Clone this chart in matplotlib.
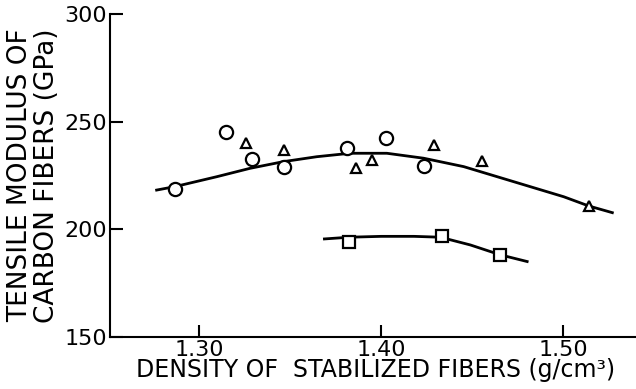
import matplotlib.pyplot as plt

circle_x = [1.2866, 1.3145, 1.3288, 1.3468, 1.3811, 1.4026, 1.4235]
circle_y = [218.7, 245.2, 232.8, 229.1, 237.9, 242.4, 229.4]

triangle_x = [1.3257, 1.3468, 1.3862, 1.3947, 1.4292, 1.4556, 1.5143]
triangle_y = [239.9, 236.8, 228.6, 232.2, 239.1, 231.7, 211.0]

square_x = [1.3824, 1.4332, 1.4653]
square_y = [194.0, 197.0, 188.1]

upper_curve_x = [1.2766, 1.2866, 1.3096, 1.3279, 1.3462, 1.3646, 1.3829, 1.4031,
                 1.4233, 1.4453, 1.4728, 1.5003, 1.5141, 1.5270]
upper_curve_y = [218.2, 219.8, 224.4, 228.3, 231.4, 233.7, 235.3, 235.3,
                 233.0, 229.1, 222.1, 215.1, 210.8, 207.7]

lower_curve_x = [1.3688, 1.3824, 1.4000, 1.4180, 1.4325, 1.4490, 1.4655, 1.4802]
lower_curve_y = [195.5, 196.3, 196.7, 196.7, 196.3, 192.7, 188.1, 185.0]

xticks = [1.30, 1.40, 1.50]
xtick_labels = ['1.30', '1.40', '1.50']
yticks = [150, 200, 250, 300]

plt.rcParams['font.family'] = ['DejaVu Sans']

fig = plt.figure(figsize=(6.36, 3.89), dpi=100)
ax = fig.add_axes([0.173, 0.134, 0.827, 0.830])

ax.plot(upper_curve_x, upper_curve_y, color='black', lw=2)
ax.plot(lower_curve_x, lower_curve_y, color='black', lw=2)

ax.plot(circle_x, circle_y, 'o', ms=9.5, mfc='white', mec='black', mew=1.6)
ax.plot(triangle_x, triangle_y, '^', ms=7.5, mfc='white', mec='black', mew=1.6)
ax.plot(square_x, square_y, 's', ms=8, mfc='white', mec='black', mew=1.6)

ax.set_xlim(1.251, 1.540)
ax.set_ylim(150, 300)
ax.set_xticks(xticks)
ax.set_xticklabels(xtick_labels)
ax.set_yticks(yticks)

ax.spines['top'].set_visible(False)
ax.spines['right'].set_visible(False)
for s in ['left', 'bottom']:
    ax.spines[s].set_linewidth(1.5)
ax.tick_params(direction='in', length=9, width=1.5, labelsize=16, pad=2)

ax.set_xlabel('DENSITY OF  STABILIZED FIBERS (g/cm³)', fontsize=17)
ax.xaxis.set_label_coords(0.505, -0.066)
ax.set_ylabel('TENSILE MODULUS OF\nCARBON FIBERS (GPa)', fontsize=19,
              linespacing=1.05)
ax.yaxis.set_label_coords(-0.095, 0.5)

fig.savefig('out.png', dpi=100)
